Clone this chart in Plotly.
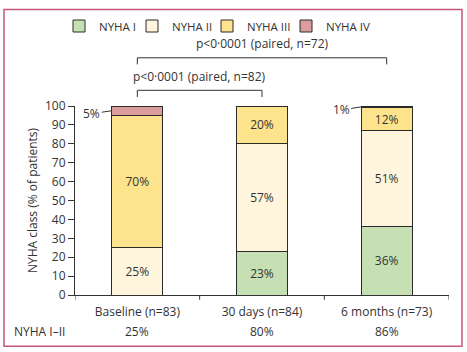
import plotly.graph_objects as go

categories = ["Baseline (n=83)", "30 days (n=84)", "6 months (n=73)"]
series_names = ["NYHA I", "NYHA II", "NYHA III", "NYHA IV"]
nyha1 = [0, 23, 36]
nyha2 = [25, 57, 51]
nyha3 = [70, 20, 12]
nyha4 = [5, 0, 1]
nyha_12 = ["25%", "80%", "86%"]
y_ticks = [0, 10, 20, 30, 40, 50, 60, 70, 80, 90, 100]
p_labels = ["p<0·0001 (paired, n=82)", "p<0·0001 (paired, n=72)"]

colors = ["#c6e0b4", "#fff5dc", "#fde48c", "#dd9c9e"]
FONT = "Open Sans"
TXT = "#333333"
FS = 12

L, R, T, B = 75, 18, 103, 57
W, H = 467, 352
pw, ph = W - L - R, H - T - B

legend_ids = ["legend", "legend2", "legend3", "legend4"]
legend_text_x = [94, 167, 242, 321]  # pixel where each legend label starts

fig = go.Figure()
series = [nyha1, nyha2, nyha3, nyha4]
for name, vals, col, lid in zip(series_names, series, colors, legend_ids):
    texts = [f"{v}%" if v >= 10 else "" for v in vals]
    fig.add_trace(go.Bar(
        x=[0, 1, 2], y=vals, name=name, legend=lid,
        marker=dict(color=col, line=dict(color="#2a2a2a", width=1)),
        text=texts, textposition="inside", insidetextanchor="middle",
        textfont=dict(family=FONT, size=FS, color=TXT), width=0.41,
        hoverinfo="skip",
    ))

# Small segment labels with leader lines
bw = 0.41
for i in range(3):
    v = nyha4[i]
    if 0 < v < 10:
        base = nyha1[i] + nyha2[i] + nyha3[i]
        fig.add_annotation(x=i - bw / 2, y=base + v / 2, xref="x", yref="y",
                           text=f"{v}%", showarrow=True, arrowhead=0, arrowwidth=1,
                           arrowcolor="#333", ax=-20, ay=3, standoff=0,
                           font=dict(family=FONT, size=FS, color=TXT))

# Brackets
def bracket(x0, x1, yb, label):
    tip = -0.035
    fig.add_shape(type="path", xref="x", yref="paper",
                  path=f"M {x0},{yb + tip} L {x0},{yb} L {x1},{yb} L {x1},{yb + tip}",
                  line=dict(color="#333", width=1))
    fig.add_annotation(x=(x0 + x1) / 2, y=yb + 0.075, xref="x", yref="paper", text=label,
                       showarrow=False, yanchor="middle",
                       font=dict(family=FONT, size=FS, color=TXT))

bracket(0, 1, 1.083, p_labels[0])
bracket(0, 2, 1.255, p_labels[1])

# Bottom row
fig.add_annotation(x=-0.094, y=-0.195, xref="paper", yref="paper", text="NYHA I–II",
                   showarrow=False, xanchor="center", yanchor="middle",
                   font=dict(family=FONT, size=FS, color=TXT))
for i, t in enumerate(nyha_12):
    fig.add_annotation(x=i, y=-0.195, xref="x", yref="paper", text=t, showarrow=False,
                       yanchor="middle", font=dict(family=FONT, size=FS, color=TXT))

# Border
fig.add_shape(type="rect", xref="paper", yref="paper",
              x0=(4 - L) / pw, x1=(462 - L) / pw,
              y0=(H - B - 347) / ph, y1=(H - B - 5) / ph,
              line=dict(color="#c4577f", width=1.5), fillcolor="rgba(0,0,0,0)")

legends = {}
for lid, tx in zip(legend_ids, legend_text_x):
    legends[lid] = dict(orientation="h", x=(tx - 35 - L) / pw, xanchor="left", y=1.5, yanchor="top",
                        font=dict(family=FONT, size=11.5, color=TXT),
                        itemclick=False, bgcolor="rgba(0,0,0,0)")

fig.update_layout(
    barmode="stack", width=W, height=H,
    margin=dict(l=L, r=R, t=T, b=B),
    paper_bgcolor="white", plot_bgcolor="white",
    font=dict(family=FONT, size=FS, color=TXT),
    showlegend=True,
    uniformtext=dict(minsize=FS, mode="show"),
    xaxis=dict(
        tickmode="array", tickvals=[0, 1, 2], ticktext=categories,
        range=[-0.5, 2.5], showline=True, linecolor="#333", linewidth=1,
        ticks="", showgrid=False, zeroline=False, ticklabelstandoff=6,
        tickfont=dict(family=FONT, size=FS, color=TXT),
    ),
    yaxis=dict(
        range=[0, 100], tickvals=y_ticks, showline=True, linecolor="#333", linewidth=1,
        ticks="outside", ticklen=6, tickcolor="#333", showgrid=False, zeroline=False,
        title=dict(text="NYHA class (% of patients)", standoff=4,
                   font=dict(family=FONT, size=FS, color=TXT)),
        tickfont=dict(family=FONT, size=FS, color=TXT),
    ),
    **legends,
)

# Category boundary ticks on x axis
for xb in [-0.5, 0.5, 1.5, 2.5]:
    fig.add_shape(type="line", xref="x", yref="paper", x0=xb, x1=xb, y0=0, y1=-0.025,
                  line=dict(color="#333", width=1))

fig.write_html("out.html")
